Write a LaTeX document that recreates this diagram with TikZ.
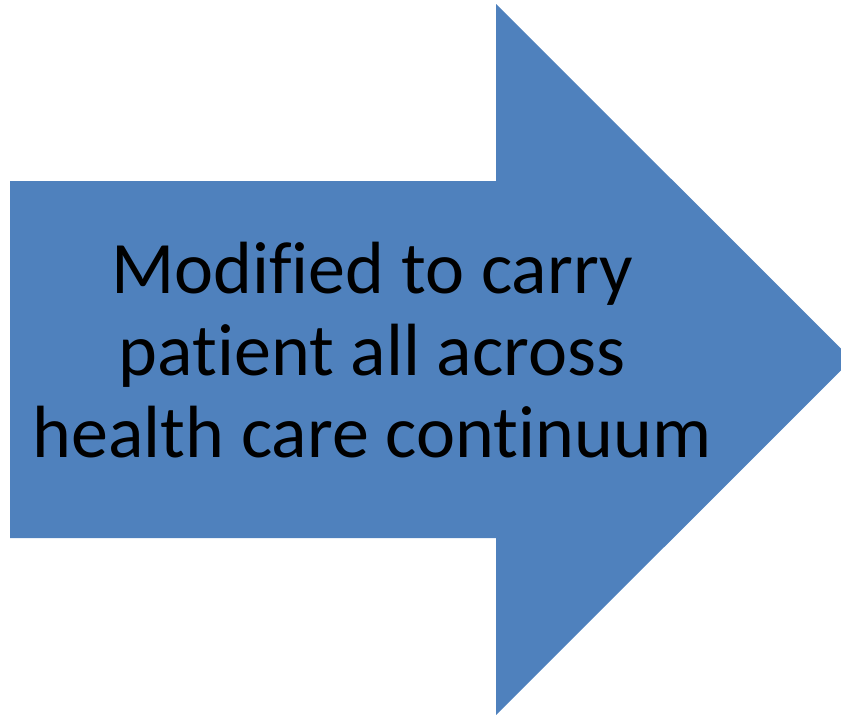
\documentclass[tikz,border=0pt]{standalone}
\usepackage{fontspec}
\setmainfont{Carlito}[Ligatures=CommonOff]
\definecolor{arrowblue}{RGB}{79,129,189}
\begin{document}
\begin{tikzpicture}[x=1pt,y=-1pt,
  arrowtext/.style={anchor=base,inner sep=0pt,text=black,
    font=\fontsize{74}{82}\selectfont}]
  \useasboundingbox (0,0) rectangle (841,715);
  \clip (0,0) rectangle (841,715);
  % block arrow: shaft plus triangular head
  \fill[arrowblue] (10,181) -- (496,181) -- (496,4) -- (852,359.5)
    -- (496,715) -- (496,538) -- (10,538) -- cycle;
  \node[arrowtext] (l1) at (372,293) {Modified to carry};
  \node[arrowtext] (l2) at (372,375) {patient all across};
  \node[arrowtext] (l3) at (372,457) {health care continuum};
\end{tikzpicture}
\end{document}
